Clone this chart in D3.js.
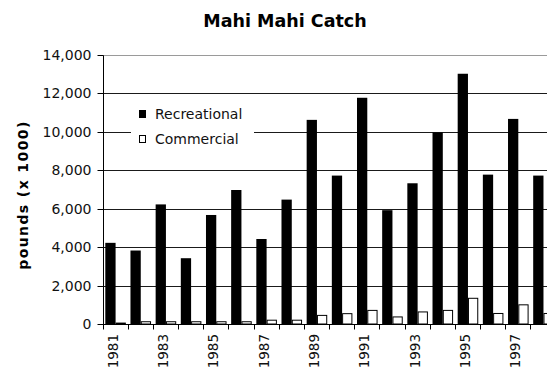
<!DOCTYPE html>
<html>
<head>
<meta charset="utf-8">
<script src="https://cdn.jsdelivr.net/npm/d3@7"></script>
<style>
  html, body { margin: 0; padding: 0; background: #fff; }
  svg { display: block; font-family: "DejaVu Sans", sans-serif; }
</style>
</head>
<body>
<div id="chart"></div>
<script>
// Annual Mahi Mahi catch, thousands of pounds
const years = ["1981","1982","1983","1984","1985","1986","1987","1988","1989",
               "1990","1991","1992","1993","1994","1995","1996","1997","1998"];
const recreational = [4250, 3850, 6250, 3450, 5700, 7000, 4450, 6500, 10650,
                      7750, 11800, 5950, 7350, 10000, 13050, 7800, 10700, 7750];
const commercial = [100, 170, 170, 170, 170, 170, 250, 250, 500,
                    590, 760, 420, 680, 760, 1390, 600, 1050, 600];
const seriesNames = ["Recreational", "Commercial"];
const yTickValues = [0, 2000, 4000, 6000, 8000, 10000, 12000, 14000];
const xTickLabels = ["1981","1983","1985","1987","1989","1991","1993","1995","1997"];

const W = 547, H = 372;
const plot = { left: 103, top: 55.5, bottom: 324.5, bandW: 25.17 };
const seriesFill = { Recreational: "#000", Commercial: "#fff" };

const svg = d3.select("#chart").append("svg")
  .attr("width", W).attr("height", H)
  .style("overflow", "hidden");

const x = d3.scaleBand()
  .domain(years)
  .range([plot.left, plot.left + plot.bandW * years.length])
  .padding(0);

const xInner = d3.scaleBand()
  .domain(seriesNames)
  .range([2.3, x.bandwidth() - 2.3])
  .padding(0);

const y = d3.scaleLinear().domain([0, 14000]).range([plot.bottom, plot.top]);
const crisp = v => Math.round(v - 0.5) + 0.5;

// Title
svg.append("text")
  .attr("x", 285).attr("y", 27)
  .attr("text-anchor", "middle")
  .style("font-weight", "bold").style("font-size", "17.5px")
  .text("Mahi Mahi Catch");

// Horizontal gridlines (top edge of the plot area is grey)
svg.append("g").selectAll("line")
  .data(yTickValues.filter(d => d > 0))
  .join("line")
  .attr("x1", plot.left).attr("x2", W)
  .attr("y1", d => crisp(y(d))).attr("y2", d => crisp(y(d)))
  .attr("stroke", d => d === 14000 ? "#9a9a9a" : "#1a1a1a")
  .attr("stroke-width", 1);

// Bars
const rows = years.map((yr, i) => ({ year: yr, Recreational: recreational[i], Commercial: commercial[i] }));
const groups = svg.append("g").selectAll("g")
  .data(rows)
  .join("g")
  .attr("transform", d => `translate(${x(d.year)},0)`);

groups.selectAll("rect")
  .data(d => seriesNames.map(s => ({ s, v: d[s] })))
  .join("rect")
  .attr("x", d => d.s === "Commercial" ? xInner(d.s) + 0.5 : xInner(d.s))
  .attr("y", d => d.s === "Commercial" ? y(d.v) + 0.5 : y(d.v))
  .attr("width", d => d.s === "Commercial" ? xInner.bandwidth() - 1 : xInner.bandwidth())
  .attr("height", d => Math.max(0, plot.bottom - y(d.v) - (d.s === "Commercial" ? 1 : 0)))
  .attr("fill", d => seriesFill[d.s])
  .attr("stroke", d => d.s === "Commercial" ? "#000" : "none")
  .attr("stroke-width", 1);

// Y axis
const yAxis = d3.axisLeft(y)
  .tickValues(yTickValues)
  .tickSize(6)
  .tickPadding(6)
  .tickFormat(d3.format(","));
const gy = svg.append("g")
  .attr("transform", `translate(${crisp(plot.left)},0)`)
  .call(yAxis);
gy.select(".domain").attr("d", `M0,${crisp(plot.top)}V${crisp(plot.bottom)}`).attr("stroke", "#000");
gy.selectAll(".tick line").attr("stroke", "#000");
gy.selectAll(".tick").attr("transform", d => `translate(0,${crisp(y(d))})`);
gy.selectAll(".tick text")
  .style("font-family", "DejaVu Sans, sans-serif")
  .style("font-size", "14px")
  .attr("fill", "#111");

// X axis: line, boundary ticks between categories, labels on odd years
const gx = svg.append("g");
gx.append("line")
  .attr("x1", plot.left).attr("x2", W)
  .attr("y1", crisp(plot.bottom)).attr("y2", crisp(plot.bottom))
  .attr("stroke", "#000");
gx.selectAll("line.tk")
  .data(years)
  .join("line").attr("class", "tk")
  .attr("x1", d => crisp(x(d))).attr("x2", d => crisp(x(d)))
  .attr("y1", crisp(plot.bottom)).attr("y2", crisp(plot.bottom) + 5)
  .attr("stroke", "#000");
gx.selectAll("text")
  .data(xTickLabels)
  .join("text")
  .attr("transform", d => `translate(${x(d) + x.bandwidth() / 2 + 2},334) rotate(-90)`)
  .attr("text-anchor", "end")
  .style("font-size", "13.5px")
  .attr("fill", "#111")
  .text(d => d);

// Y axis title
svg.append("text")
  .attr("transform", "translate(28,195) rotate(-90)")
  .attr("text-anchor", "middle")
  .style("font-weight", "bold").style("font-size", "14px")
  .style("letter-spacing", "1.4px")
  .text("pounds (x 1000)");

// Legend
const legend = svg.append("g");
legend.append("rect")
  .attr("x", 131).attr("y", 100).attr("width", 123).attr("height", 50)
  .attr("fill", "#fff");
const items = legend.selectAll("g")
  .data(seriesNames)
  .join("g")
  .attr("transform", (d, i) => `translate(139,${110 + i * 25})`);
items.append("rect")
  .attr("x", 0.5).attr("y", 0.5).attr("width", 6).attr("height", 7)
  .attr("fill", d => seriesFill[d]).attr("stroke", "#000");
items.append("text")
  .attr("x", 16).attr("y", 9)
  .style("font-size", "14px")
  .attr("fill", "#111")
  .text(d => d);
</script>
</body>
</html>
